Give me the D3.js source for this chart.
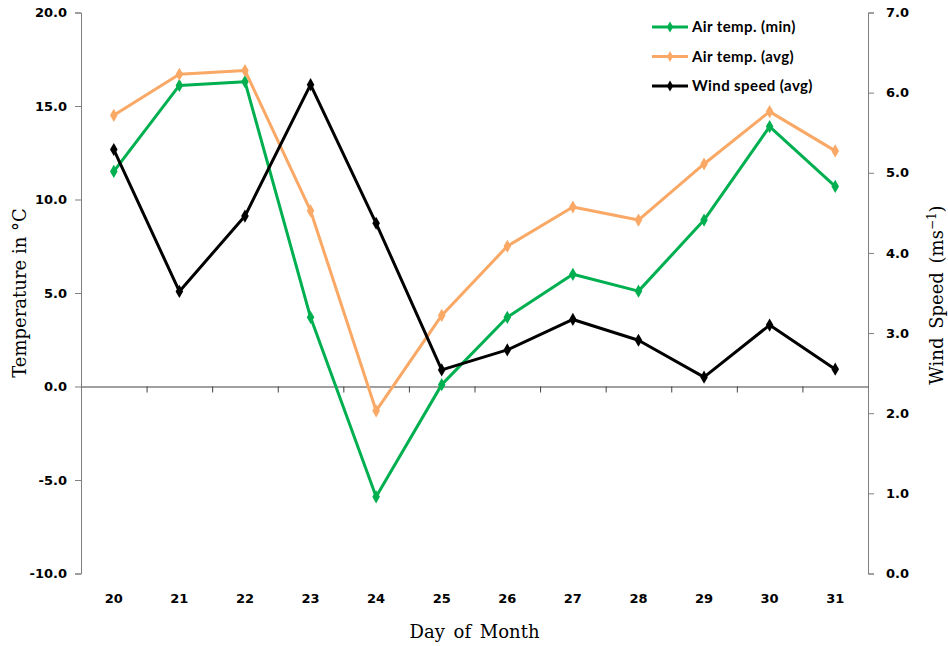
<!DOCTYPE html>
<html>
<head>
<meta charset="utf-8">
<script src="https://cdn.jsdelivr.net/npm/d3@7"></script>
<style>
  body { margin: 0; background: #fff; }
  svg { display: block; }
</style>
</head>
<body>
<svg id="chart"></svg>
<script>
// days on the x axis
const days = ["20", "21", "22", "23", "24", "25", "26", "27", "28", "29", "30", "31"];
// air temperature, °C
const airMin = [11.5, 16.1, 16.3, 3.7, -5.9, 0.1, 3.7, 6.0, 5.1, 8.9, 13.9, 10.7];
const airAvg = [14.5, 16.7, 16.9, 9.4, -1.3, 3.8, 7.5, 9.6, 8.9, 11.9, 14.7, 12.6];
// wind speed, m/s (right axis)
const windAvg = [5.29, 3.52, 4.46, 6.10, 4.37, 2.54, 2.79, 3.17, 2.91, 2.45, 3.10, 2.55];
const tempTicks = [-10, -5, 0, 5, 10, 15, 20];
const windTicks = [0, 1, 2, 3, 4, 5, 6, 7];

const width = 948, height = 646;
const marginTop = 12.5, marginBottom = 72.5, marginLeft = 81, marginRight = 80;

const svg = d3.select("#chart")
  .attr("width", width)
  .attr("height", height)
  .attr("viewBox", [0, 0, width, height]);

const x = d3.scaleBand()
  .domain(days)
  .range([marginLeft, width - marginRight]);

// linear helper over the same range, for the tick marks between days
const xEdge = d3.scaleLinear()
  .domain([0, days.length])
  .range([marginLeft, width - marginRight]);

const y = d3.scaleLinear()
  .domain([-10, 20])
  .range([height - marginBottom, marginTop]);

const y2 = d3.scaleLinear()
  .domain([0, 7])
  .range([height - marginBottom, marginTop]);

const tickFont = "bold 13px 'DejaVu Sans', Verdana, sans-serif";
const fmt = d => d.toFixed(1); // plain hyphen minus like the original

// left axis
svg.append("g")
  .attr("transform", `translate(${marginLeft},0)`)
  .call(d3.axisLeft(y).tickValues(tempTicks).tickFormat(fmt).tickSize(6).tickPadding(8))
  .call(g => g.selectAll(".domain, line").attr("stroke", "#7f7f7f"))
  .call(g => g.selectAll("text").style("font", tickFont).attr("fill", "#000"));

// right axis
svg.append("g")
  .attr("transform", `translate(${width - marginRight},0)`)
  .call(d3.axisRight(y2).tickValues(windTicks).tickFormat(fmt).tickSize(6).tickPadding(12))
  .call(g => g.selectAll(".domain, line").attr("stroke", "#7f7f7f"))
  .call(g => g.selectAll("text").style("font", tickFont).attr("fill", "#000"));

// zero line with ticks between days
svg.append("g")
  .attr("transform", `translate(0,${y(0)})`)
  .call(d3.axisBottom(xEdge).tickValues(d3.range(1, days.length)).tickFormat("").tickSize(6).tickSizeOuter(0))
  .call(g => g.selectAll(".domain, line").attr("stroke", "#404040"));

// day labels at the bottom
svg.append("g")
  .attr("transform", `translate(0,${height - marginBottom})`)
  .call(d3.axisBottom(x).tickSize(0).tickPadding(20))
  .call(g => g.select(".domain").remove())
  .call(g => g.selectAll("text").style("font", tickFont).attr("fill", "#000"));

// axis titles
const titleFont = "18px 'DejaVu Serif', 'Liberation Serif', serif";
svg.append("text")
  .attr("x", (marginLeft + width - marginRight) / 2)
  .attr("y", 638)
  .attr("text-anchor", "middle")
  .style("font", titleFont)
  .style("word-spacing", "3px")
  .text("Day of Month");

svg.append("text")
  .attr("transform", `translate(26,${(marginTop + height - marginBottom) / 2}) rotate(-90)`)
  .attr("text-anchor", "middle")
  .style("font", titleFont)
  .text("Temperature in °C");

const rt = svg.append("text")
  .attr("transform", `translate(943,${295}) rotate(-90)`)
  .attr("text-anchor", "middle")
  .style("font", titleFont)
  .style("word-spacing", "3px");
rt.append("tspan").text("Wind Speed (ms");
rt.append("tspan").attr("dy", -7).style("font-size", "12px").text("−1");
rt.append("tspan").attr("dy", 7).text(")");

// series
const series = [
  { name: "Air temp. (min)", values: airMin, scale: y, color: "#00b050" },
  { name: "Air temp. (avg)", values: airAvg, scale: y, color: "#f9a865" },
  { name: "Wind speed (avg)", values: windAvg, scale: y2, color: "#000000" }
];

const diamond = d3.symbol().type(d3.symbolDiamond).size(50);

series.forEach(s => {
  const line = d3.line()
    .x((d, i) => x(days[i]) + x.bandwidth() / 2)
    .y(d => s.scale(d));

  svg.append("path")
    .datum(s.values)
    .attr("fill", "none")
    .attr("stroke", s.color)
    .attr("stroke-width", 3)
    .attr("stroke-linejoin", "round")
    .attr("d", line);

  svg.append("g")
    .attr("fill", s.color)
    .selectAll("path")
    .data(s.values)
    .join("path")
    .attr("transform", (d, i) => `translate(${x(days[i]) + x.bandwidth() / 2},${s.scale(d)})`)
    .attr("d", diamond);
});

// legend
const legend = svg.append("g")
  .attr("transform", "translate(652,27)")
  .selectAll("g")
  .data(series)
  .join("g")
  .attr("transform", (d, i) => `translate(0,${i * 29.5})`);

legend.append("line")
  .attr("x1", 0).attr("x2", 36)
  .attr("stroke", d => d.color)
  .attr("stroke-width", 3);

legend.append("path")
  .attr("transform", "translate(18,0)")
  .attr("fill", d => d.color)
  .attr("d", d3.symbol().type(d3.symbolDiamond).size(34));

legend.append("text")
  .attr("x", 40)
  .attr("dy", "0.35em")
  .style("font", "bold 15px Lato, 'Open Sans', sans-serif")
  .style("letter-spacing", "0.4px")
  .text(d => d.name);
</script>
</body>
</html>
